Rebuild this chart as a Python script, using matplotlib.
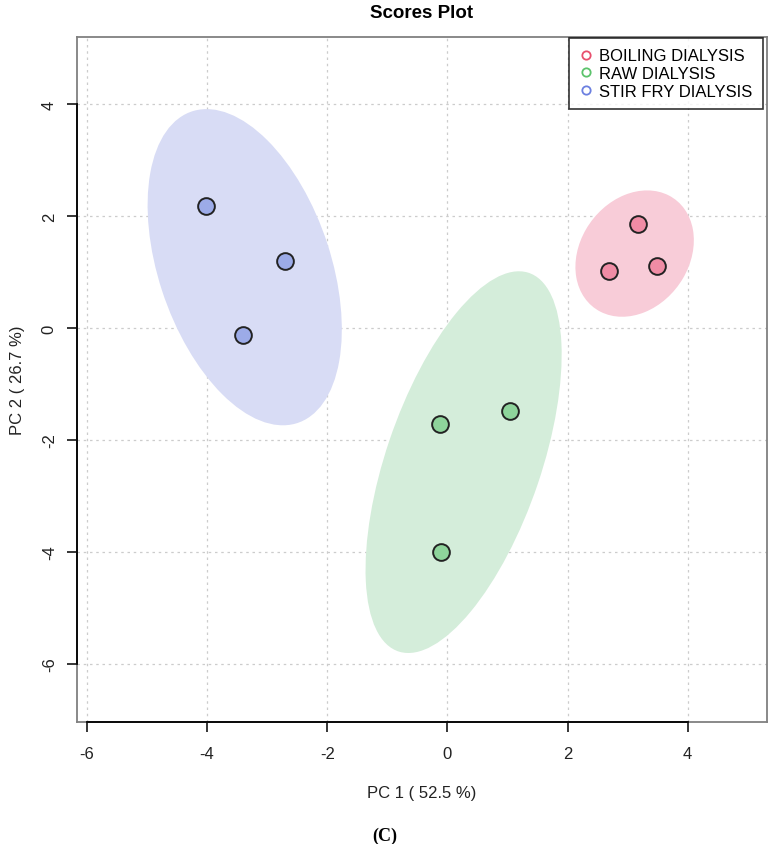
import numpy as np
import matplotlib
matplotlib.use("Agg")
import matplotlib.pyplot as plt
from matplotlib.patches import Ellipse
from matplotlib.lines import Line2D

plt.rcParams['font.family'] = ['Liberation Sans', 'DejaVu Sans']

# scores
groups = ["BOILING DIALYSIS", "RAW DIALYSIS", "STIR FRY DIALYSIS"]
boiling_pc1 = [3.17, 2.69, 3.49]
boiling_pc2 = [1.86, 1.02, 1.11]
raw_pc1 = [-0.12, 1.04, -0.11]
raw_pc2 = [-1.71, -1.48, -4.00]
stir_pc1 = [-4.02, -2.70, -3.40]
stir_pc2 = [2.18, 1.20, -0.12]

x_ticks = [-6, -4, -2, 0, 2, 4]
y_ticks = [-6, -4, -2, 0, 2, 4]

point_cols = ["#F08CA5", "#8ED49B", "#9CABE8"]
fill_cols = ["#F8CCD8", "#D4EDDA", "#D8DCF5"]
legend_cols = ["#E8506E", "#5CC36C", "#6C80E0"]

data = [(boiling_pc1, boiling_pc2), (raw_pc1, raw_pc2), (stir_pc1, stir_pc2)]

W, H = 769, 845
fig = plt.figure(figsize=(W / 100, H / 100), dpi=100)
ax = fig.add_axes([77 / W, 1 - 723 / H, 690 / W, 685 / H])

# 95% confidence ellipses (chi-square, 2 dof)
chi = -2 * np.log(0.05)
for (xs, ys), fc in zip(data, fill_cols):
    pts = np.column_stack([xs, ys])
    cov = np.cov(pts, rowvar=False)
    vals, vecs = np.linalg.eigh(cov)
    order = vals.argsort()[::-1]
    vals, vecs = vals[order], vecs[:, order]
    angle = np.degrees(np.arctan2(vecs[1, 0], vecs[0, 0]))
    w, h = 2 * np.sqrt(chi * vals)
    ax.add_patch(Ellipse(pts.mean(axis=0), w, h, angle=angle,
                         facecolor=fc, edgecolor="none", zorder=1))

for (xs, ys), pc in zip(data, point_cols):
    ax.scatter(xs, ys, s=145, facecolor=pc, edgecolor="#222222",
               linewidth=1.4, zorder=3)

xmin, xmax = -6.165, 5.32
ymin, ymax = -7.04, 5.2
ax.set_xlim(xmin, xmax)
ax.set_ylim(ymin, ymax)
ax.set_xticks(x_ticks)
ax.set_yticks(y_ticks)
ax.grid(True, color="#CCCCCC", linestyle=(0, (2, 3)), linewidth=0.9, zorder=0)
ax.set_axisbelow(True)

for sp in ax.spines.values():
    sp.set_color("#808080")
    sp.set_linewidth(1.3)

# R style axis lines spanning the ticks
ax.plot([x_ticks[0], x_ticks[-1]], [ymin, ymin], color="black", lw=1.3,
        clip_on=False, zorder=5)
ax.plot([xmin, xmin], [y_ticks[0], y_ticks[-1]], color="black", lw=1.3,
        clip_on=False, zorder=5)

ax.tick_params(axis="both", length=7.5, width=1.1, color="black",
               labelsize=12, labelcolor="#222222")
ax.tick_params(axis="x", pad=10)
ax.tick_params(axis="y", pad=7)
ax.set_yticklabels([str(t) for t in y_ticks], rotation=90, va="center")
ax.set_xticklabels([str(t) for t in x_ticks])

ax.set_xlabel("PC 1 ( 52.5 %)", fontsize=12, color="#222222")
ax.xaxis.set_label_coords(0.5, (723 - 786) / 685)
ax.set_ylabel("PC 2 ( 26.7 %)", fontsize=12, color="#222222")
ax.yaxis.set_label_coords((25 - 77) / 690, 0.5)
ax.set_title("Scores Plot", fontsize=13.5, fontweight="bold", pad=14.4)

handles = [Line2D([], [], marker="o", linestyle="none", markerfacecolor="none",
                  markeredgecolor=c, markersize=6, markeredgewidth=1.3)
           for c in legend_cols]
leg = ax.legend(handles, groups, loc="upper right", fontsize=12,
                bbox_to_anchor=(763 / W, 1 - 39 / H),
                bbox_transform=fig.transFigure, borderaxespad=0,
                frameon=True, fancybox=False, handletextpad=0.36,
                labelspacing=0.16, borderpad=0.62, handlelength=0.84)
leg.get_frame().set_edgecolor("black")
leg.get_frame().set_linewidth(1.2)

fig.text(0.5, 1 - 836 / H, "(C)", family="Liberation Serif",
         fontweight="bold", fontsize=13, ha="center", va="center")

fig.savefig("out.png", dpi=100)
